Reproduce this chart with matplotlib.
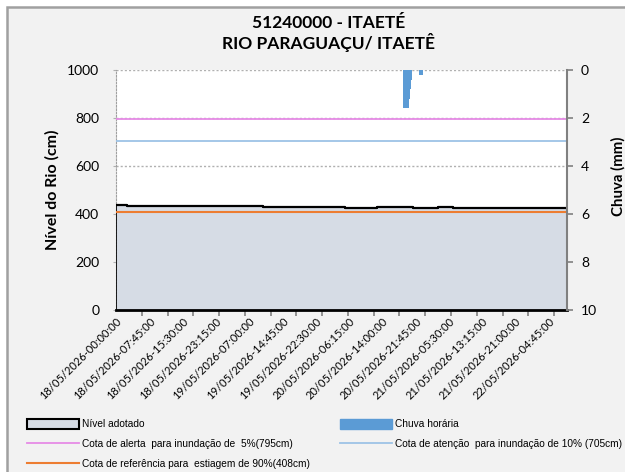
import numpy as np
import matplotlib.pyplot as plt
from matplotlib.patches import Rectangle, Patch
from matplotlib.lines import Line2D

# level (cm), 15-min steps starting 18/05/2026 00:00, stored as runs
level_values = [437, 434, 433, 432, 430, 429, 427, 428, 426, 428, 426, 423]
level_counts = [10, 31, 37, 59, 34, 42, 30, 34, 23, 14, 37, 70]

# hourly rain (mm) at the 15-min slots where it was non zero
rain_index = [267, 268, 269, 270, 271, 272, 273, 274, 275, 282, 283, 284, 285]
rain_values = [1.6, 1.6, 1.6, 1.6, 1.6, 1.6, 1.2, 0.8, 0.4, 0.2, 0.2, 0.2, 0.2]

cota_alerta = 795
cota_atencao = 705
cota_estiagem = 408

x_labels = ['18/05/2026-00:00:00', '18/05/2026-07:45:00', '18/05/2026-15:30:00',
            '18/05/2026-23:15:00', '19/05/2026-07:00:00', '19/05/2026-14:45:00',
            '19/05/2026-22:30:00', '20/05/2026-06:15:00', '20/05/2026-14:00:00',
            '20/05/2026-21:45:00', '21/05/2026-05:30:00', '21/05/2026-13:15:00',
            '21/05/2026-21:00:00', '22/05/2026-04:45:00']

nivel = np.repeat(level_values, level_counts)
n = len(nivel)
x = np.arange(n)
chuva = np.zeros(n)
chuva[rain_index] = rain_values

main_font = 'Lato'
leg_font = 'Liberation Sans'

fig = plt.figure(figsize=(6.25, 4.72), dpi=100)
fig.patch.set_facecolor('white')
fig.patches.append(Rectangle((7 / 625, -0.1), 1.1, 1 - 7 / 472 + 0.1,
                             transform=fig.transFigure, facecolor='#f2f2f2',
                             edgecolor='#a0a0a0', linewidth=1.8, zorder=-10))

ax = fig.add_axes([116 / 625, 1 - 310 / 472, 451 / 625, 240 / 472])
ax.set_facecolor('white')

# grid
for g in [200, 400, 600, 800, 1000]:
    ax.axhline(g, color='#b0b0b0', linestyle=(0, (1.5, 1.5)), linewidth=1, zorder=1)

ax.fill_between(x, 0, nivel, step='post', color='#d6dce5', zorder=2)
ax.step(x, nivel, where='post', color='black', linewidth=1.6, zorder=3)
ax.plot([0, 0], [0, nivel[0]], color='black', linewidth=1.2, zorder=3)

ax.axhline(cota_alerta, color='#e68be6', linewidth=1.3, zorder=4)
ax.axhline(cota_atencao, color='#9dc3e6', linewidth=1.3, zorder=4)
ax.axhline(cota_estiagem, color='#ed7d31', linewidth=1.5, zorder=4)

ax.set_xlim(0, n - 1)
ax.set_ylim(0, 1000)
ax.set_yticks([0, 200, 400, 600, 800, 1000])
ax.tick_params(axis='y', labelsize=10, length=2, color='#b0b0b0', pad=10)
for lab in ax.get_yticklabels():
    lab.set_fontfamily(main_font)

label_pos = np.arange(len(x_labels)) * 31
ax.set_xticks(label_pos)
ax.set_xticklabels(x_labels, rotation=45, ha='right', rotation_mode='anchor',
                   fontsize=8.0, fontfamily=main_font)
ax.tick_params(axis='x', which='major', length=0, pad=4)
ax.set_xticks(np.arange(0, n, 24), minor=True)
ax.tick_params(axis='x', which='minor', length=4, color='#808080', width=1.2)

ax.spines['left'].set_linestyle((0, (1.5, 1.5)))
ax.spines['left'].set_color('#a0a0a0')
ax.spines['top'].set_visible(False)
ax.spines['right'].set_visible(False)
ax.spines['bottom'].set_color('black')
ax.spines['bottom'].set_linewidth(2)

ax.set_ylabel('Nível do Rio (cm)', fontsize=11.5, fontweight='bold',
              fontfamily=main_font)
ax.yaxis.set_label_coords(-0.124, 0.5)

ax2 = ax.twinx()
ax2.bar(x + 0.5, chuva, width=1.0, color='#5b9bd5', zorder=5)
ax2.set_ylim(10, 0)
ax2.set_yticks([0, 2, 4, 6, 8, 10])
ax2.tick_params(axis='y', labelsize=10, length=4, color='#808080', width=1.2, pad=6)
for lab in ax2.get_yticklabels():
    lab.set_fontfamily(main_font)
for s in ['top', 'left', 'bottom']:
    ax2.spines[s].set_visible(False)
ax2.spines['right'].set_color('#808080')
ax2.spines['right'].set_linewidth(1.5)
ax2.set_ylabel('Chuva (mm)', fontsize=10.8, fontweight='bold',
               fontfamily=main_font)
ax2.yaxis.set_label_coords(1.098, 0.555)

fig.text(329 / 625, 1 - 23 / 472, '51240000 - ITAETÉ', ha='center', va='center',
         fontsize=12.5, fontweight='bold', fontfamily=main_font)
fig.text(329 / 625, 1 - 43 / 472, 'RIO PARAGUAÇU/ ITAETÊ', ha='center', va='center',
         fontsize=12.5, fontweight='bold', fontfamily=main_font)

# legend
handles = [Patch(facecolor='#d6dce5', edgecolor='black', linewidth=1.5),
           Line2D([], [], color='#e68be6', linewidth=1.3),
           Line2D([], [], color='#ed7d31', linewidth=1.5),
           Patch(facecolor='#5b9bd5', edgecolor='#5b9bd5'),
           Line2D([], [], color='#9dc3e6', linewidth=1.3)]
labels = ['Nível adotado',
          'Cota de alerta  para inundação de  5%(795cm)',
          'Cota de referência para  estiagem de 90%(408cm)',
          'Chuva horária',
          'Cota de atenção  para inundação de 10% (705cm)']
leg = fig.legend(handles, labels, ncol=2, loc='upper left',
                 bbox_to_anchor=(27 / 625, 1 - 419 / 472), frameon=False,
                 prop={'family': leg_font, 'size': 7.3}, handlelength=5.1,
                 handleheight=1.1, handletextpad=0.3, columnspacing=3.0,
                 labelspacing=0.95, borderaxespad=0, borderpad=0)

fig.savefig('out.png', dpi=100, facecolor=fig.get_facecolor())
